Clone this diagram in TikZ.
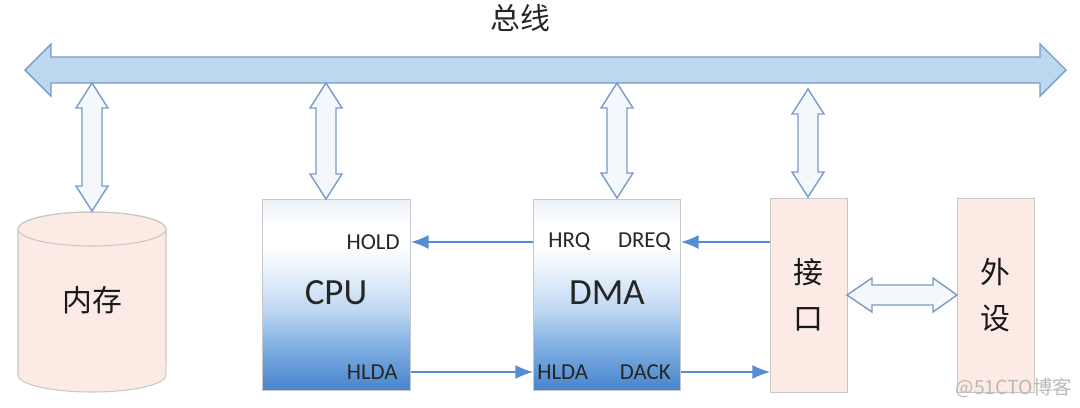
\documentclass[tikz,border=0pt]{standalone}
\usepackage{fontspec}
\setmainfont{Carlito}
\newfontfamily\cjk{Noto Sans CJK SC}
\usetikzlibrary{arrows.meta}
\definecolor{busfill}{RGB}{189,215,238}
\definecolor{busdraw}{RGB}{120,155,200}
\definecolor{linec}{RGB}{84,141,212}
\definecolor{pinkf}{RGB}{252,234,228}
\definecolor{boxdraw}{RGB}{200,200,200}
\definecolor{bluebot}{RGB}{70,132,204}
\definecolor{gradA}{RGB}{125,172,225}
\definecolor{gradB}{RGB}{190,215,243}
\definecolor{gradC}{RGB}{232,241,251}
\definecolor{toplight}{RGB}{236,242,250}
\definecolor{dotf}{RGB}{244,248,253}
\definecolor{wm}{RGB}{185,185,185}
\pgfdeclareverticalshading{boxgrad}{100bp}{color(0bp)=(bluebot); color(25bp)=(bluebot);
  color(36bp)=(gradA); color(46bp)=(gradB); color(56bp)=(gradC); color(63bp)=(white);
  color(68bp)=(white); color(75bp)=(toplight); color(100bp)=(toplight)}
\newcommand\vdbl[3]{%
  \draw[blockarrow] (#1,#2) -- (#1+16,#2+25) -- (#1+10,#2+25) -- (#1+10,#3-25)
    -- (#1+16,#3-25) -- (#1,#3) -- (#1-16,#3-25) -- (#1-10,#3-25)
    -- (#1-10,#2+25) -- (#1-16,#2+25) -- cycle;}
\begin{document}
\begin{tikzpicture}[x=0.02cm,y=-0.02cm,
  blockarrow/.style={draw=busdraw, fill=dotf, line width=0.8pt, line join=miter},
  pinkbox/.style={draw=boxdraw, fill=pinkf, line width=0.6pt, inner sep=0pt},
  gradbox/.style={draw=boxdraw, line width=0.6pt, shading=boxgrad, inner sep=0pt},
  sig/.style={draw=linec, line width=0.9pt, -{Latex[length=10pt,width=8pt]}},
  lbl/.style={font=\fontsize{13}{15}\selectfont, text=black!85, inner sep=0pt},
  big/.style={font=\fontsize{21}{24}\selectfont, text=black!85, inner sep=0pt},
  zh/.style={font=\cjk\fontsize{17}{22}\selectfont, text=black!90, inner sep=0pt, align=center}]
\useasboundingbox (0,0) rectangle (1080,407);

% title
\node[font=\cjk\fontsize{17}{20}\selectfont, text=black!85] (title) at (520,18) {总线};

% bus
\draw[blockarrow, fill=busfill] (25,70) -- (51,44) -- (51,57) -- (1040,57) -- (1040,44)
  -- (1066,70) -- (1040,96) -- (1040,83) -- (51,83) -- (51,96) -- cycle;

% memory cylinder
\draw[draw=boxdraw, fill=pinkf, line width=0.6pt] (18,229) -- (18,375) arc (180:360:1.48cm and 0.34cm)
  -- (166,229) arc (0:180:1.48cm and 0.34cm) -- cycle;
\draw[draw=boxdraw, line width=0.6pt] (92,229) ellipse [x radius=1.48cm, y radius=0.34cm];
\node[zh, font=\cjk\fontsize{17}{20}\selectfont] (mem) at (92,300) {内存};

% boxes
\node[gradbox, anchor=north west, minimum width=2.96cm, minimum height=3.82cm] (cpu) at (262,199) {};
\node[gradbox, anchor=north west, minimum width=2.94cm, minimum height=3.82cm] (dma) at (533,199) {};
\node[pinkbox, anchor=north west, minimum width=1.54cm, minimum height=3.88cm] (intf) at (770,198) {};
\node[pinkbox, anchor=north west, minimum width=1.54cm, minimum height=3.88cm] (per) at (957,198) {};

\node[big] (cputxt) at (336,293) {CPU};
\node[big] (dmatxt) at (607,293) {DMA};
\node[zh] (intftxt) at (808,295) {接\\[4pt]口};
\node[zh] (pertxt) at (995,295) {外\\[4pt]设};

\node[lbl, anchor=east] (hold) at (400,242) {HOLD};
\node[lbl, anchor=east] (hlda1) at (398,372) {HLDA};
\node[lbl, anchor=west] (hrq) at (548,242) {HRQ};
\node[lbl, anchor=east] (dreq) at (671,242) {DREQ};
\node[lbl, anchor=west] (hlda2) at (537,372) {HLDA};
\node[lbl, anchor=east] (dack) at (671,372) {DACK};

% signal lines
\coordinate (yhi) at (0,242);
\coordinate (ylo) at (0,372);
\draw[sig] (dma.west |- yhi) -- (cpu.east |- yhi);
\draw[sig] (intf.west |- yhi) -- (dma.east |- yhi);
\draw[sig] (cpu.east |- ylo) -- (dma.west |- ylo);
\draw[sig] (dma.east |- ylo) -- (intf.west |- ylo);

% vertical block arrows
\vdbl{92}{83}{211}
\vdbl{326}{83}{199}
\vdbl{617}{83}{198}
\vdbl{808}{89}{197}

% horizontal block arrow
\draw[blockarrow] (847,295) -- (872,278) -- (872,285) -- (933,285) -- (933,278) -- (957,295)
  -- (933,312) -- (933,305) -- (872,305) -- (872,312) -- cycle;

% watermark
\node[font=\cjk\fontsize{11}{13}\selectfont, text=wm, anchor=east, inner sep=0pt] (wmark) at (1072,388) {@51CTO博客};
\end{tikzpicture}
\end{document}
